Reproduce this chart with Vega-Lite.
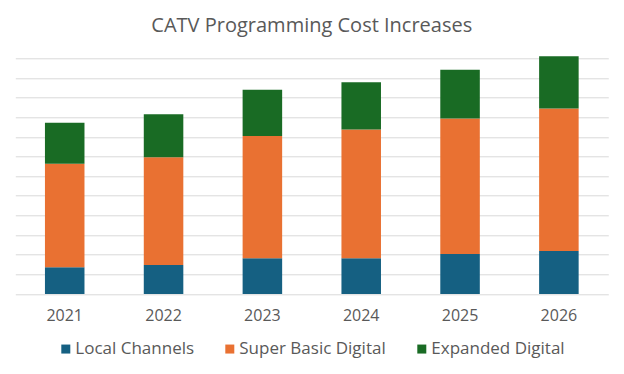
{
  "$schema": "https://vega.github.io/schema/vega-lite/v6.json",
  "autosize": {"type": "none"},
  "width": 593,
  "height": 235.7,
  "padding": {"left": 15.3, "top": 58.3, "right": 15.7, "bottom": 80},
  "background": "#ffffff",
  "title": {
    "text": "CATV Programming Cost Increases",
    "anchor": "middle",
    "frame": "group",
    "baseline": "alphabetic",
    "offset": 4,
    "font": "Open Sans",
    "fontSize": 20,
    "fontWeight": "normal",
    "color": "#595959"
  },
  "data": {
    "values": [
      {"year": "2021", "series": "Local Channels", "k": 1, "value": 1.36},
      {"year": "2021", "series": "Super Basic Digital", "k": 2, "value": 5.27},
      {"year": "2021", "series": "Expanded Digital", "k": 3, "value": 2.09},
      {"year": "2022", "series": "Local Channels", "k": 1, "value": 1.48},
      {"year": "2022", "series": "Super Basic Digital", "k": 2, "value": 5.48},
      {"year": "2022", "series": "Expanded Digital", "k": 3, "value": 2.19},
      {"year": "2023", "series": "Local Channels", "k": 1, "value": 1.82},
      {"year": "2023", "series": "Super Basic Digital", "k": 2, "value": 6.22},
      {"year": "2023", "series": "Expanded Digital", "k": 3, "value": 2.36},
      {"year": "2024", "series": "Local Channels", "k": 1, "value": 1.82},
      {"year": "2024", "series": "Super Basic Digital", "k": 2, "value": 6.56},
      {"year": "2024", "series": "Expanded Digital", "k": 3, "value": 2.40},
      {"year": "2025", "series": "Local Channels", "k": 1, "value": 2.04},
      {"year": "2025", "series": "Super Basic Digital", "k": 2, "value": 6.89},
      {"year": "2025", "series": "Expanded Digital", "k": 3, "value": 2.49},
      {"year": "2026", "series": "Local Channels", "k": 1, "value": 2.19},
      {"year": "2026", "series": "Super Basic Digital", "k": 2, "value": 7.25},
      {"year": "2026", "series": "Expanded Digital", "k": 3, "value": 2.66}
    ]
  },
  "mark": {"type": "bar", "clip": false},
  "encoding": {
    "x": {
      "field": "year",
      "type": "ordinal",
      "scale": {"paddingInner": 0.6, "paddingOuter": 0.3},
      "axis": {
        "title": null,
        "labelAngle": 0,
        "ticks": false,
        "domain": false,
        "labelPadding": 13,
        "labelFont": "Open Sans",
        "labelFontSize": 16,
        "labelColor": "#595959"
      }
    },
    "y": {
      "field": "value",
      "type": "quantitative",
      "stack": "zero",
      "scale": {"domain": [0, 12], "nice": false},
      "axis": {
        "title": null,
        "labels": false,
        "ticks": false,
        "domain": false,
        "values": [0,1,2,3,4,5,6,7,8,9,10,11,12],
        "grid": true,
        "gridColor": "#D9D9D9",
        "gridWidth": 1
      }
    },
    "order": {"field": "k", "type": "quantitative", "sort": "ascending"},
    "color": {
      "field": "series",
      "type": "nominal",
      "scale": {
        "domain": ["Local Channels", "Super Basic Digital", "Expanded Digital"],
        "range": ["#156082", "#E97132", "#196B24"]
      },
      "legend": {
        "title": null,
        "orient": "none",
        "direction": "horizontal",
        "legendX": 42,
        "legendY": 282,
        "padding": 0,
        "symbolType": "square",
        "symbolSize": 81,
        "symbolStrokeWidth": 0,
        "labelFont": "Open Sans",
        "labelFontSize": 17,
        "labelColor": "#595959",
        "labelOffset": 1,
        "columnPadding": 27
      }
    }
  },
  "config": {
    "view": {"stroke": null}
  }
}
